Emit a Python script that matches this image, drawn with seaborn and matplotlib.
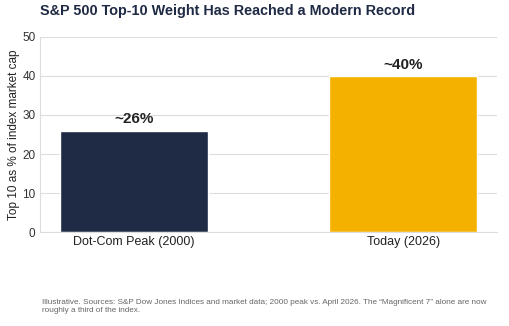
import matplotlib
matplotlib.use("Agg")
import matplotlib.pyplot as plt
import seaborn as sns
import pandas as pd

categories = ["Dot-Com Peak (2000)", "Today (2026)"]
values = [26, 40]
labels = ["~26%", "~40%"]
colors = ["#1f2a44", "#f5b100"]

sns.set_theme(style="whitegrid")
plt.rcParams['font.family'] = ['Liberation Sans', 'DejaVu Sans']

df = pd.DataFrame({"cat": categories, "val": values})

fig = plt.figure(figsize=(5.1, 3.26), dpi=100)
ax = fig.add_axes([0.078, 0.288, 0.897, 0.599])
sns.barplot(data=df, x="cat", y="val", hue="cat", palette=colors, width=0.55,
            legend=False, ax=ax, saturation=1)
ax.set_xlim(-0.35, 1.35)
ax.set_ylim(0, 50)
ax.set_yticks([0, 10, 20, 30, 40, 50])
ax.set_xlabel("")
ax.set_ylabel("Top 10 as % of index market cap", fontsize=8.5, color="#222222", labelpad=1.5)
ax.tick_params(axis="both", labelsize=8.5, colors="#333333", length=0, pad=3)
ax.tick_params(axis="x", labelsize=9, colors="#222222")
ax.grid(axis="y", color="#dddddd", linewidth=0.8)
ax.grid(axis="x", visible=False)
for s in ["top", "right"]:
    ax.spines[s].set_visible(False)
for s in ["left", "bottom"]:
    ax.spines[s].set_color("#dddddd")
    ax.spines[s].set_linewidth(0.8)

for i, (v, t) in enumerate(zip(values, labels)):
    ax.annotate(t, (i, v), xytext=(0, 3), textcoords="offset points",
                ha="center", va="bottom", fontsize=11, fontweight="bold", color="#222222")

fig.text(0.078, 0.966, "S&P 500 Top-10 Weight Has Reached a Modern Record",
         fontsize=10.4, fontweight="bold", color="#1f2a44", ha="left", va="center")
fig.text(0.082, 0.06, "Illustrative. Sources: S&P Dow Jones Indices and market data; 2000 peak vs. April 2026. The \u201cMagnificent 7\u201d alone are now\nroughly a third of the index.",
         fontsize=5.9, color="#666666", ha="left", va="center", linespacing=1.15)

fig.savefig("out.png", dpi=100)
